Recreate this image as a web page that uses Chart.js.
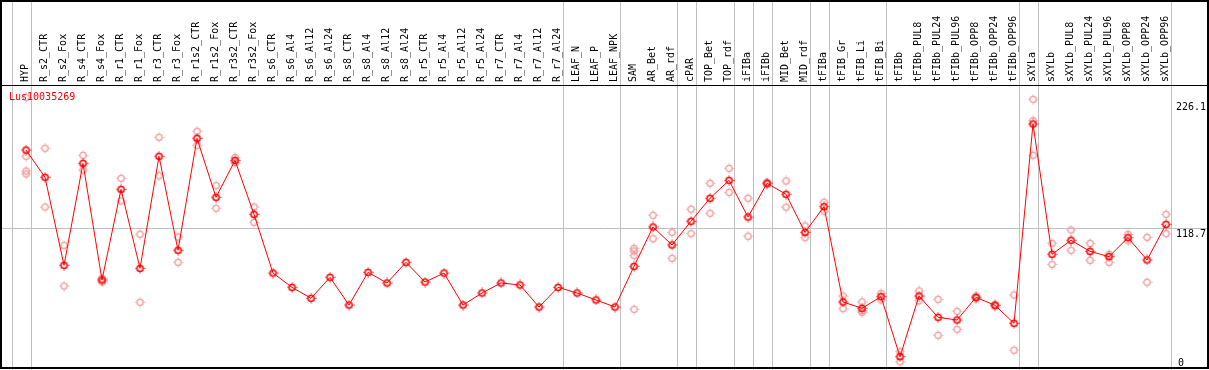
<!DOCTYPE html>
<html>
<head>
<meta charset="utf-8">
<script src="https://cdn.jsdelivr.net/npm/chart.js@4"></script>
<style>
  html, body { margin: 0; padding: 0; background: #fff; }
</style>
</head>
<body>
<canvas id="expressionChart" width="1209" height="370"></canvas>
<script>
const geneName = 'Lus10035269';

const categories = [
    'HYP', 'R_s2_CTR', 'R_s2_Fox', 'R_s4_CTR', 'R_s4_Fox', 'R_r1_CTR', 'R_r1_Fox', 'R_r3_CTR', 'R_r3_Fox',
    'R_r1s2_CTR', 'R_r1s2_Fox', 'R_r3s2_CTR', 'R_r3s2_Fox', 'R_s6_CTR', 'R_s6_Al4', 'R_s6_Al12', 'R_s6_Al24',
    'R_s8_CTR', 'R_s8_Al4', 'R_s8_Al12', 'R_s8_Al24', 'R_r5_CTR', 'R_r5_Al4', 'R_r5_Al12', 'R_r5_Al24',
    'R_r7_CTR', 'R_r7_Al4', 'R_r7_Al12', 'R_r7_Al24', 'LEAF_N', 'LEAF_P', 'LEAF_NPK', 'SAM', 'AR_Bet', 'AR_rdf',
    'cPAR', 'TOP_Bet', 'TOP_rdf', 'iFIBa', 'iFIBb', 'MID_Bet', 'MID_rdf', 'tFIBa', 'tFIB_Gr', 'tFIB_Li', 'tFIB_Bi',
    'tFIBb', 'tFIBb_PUL8', 'tFIBb_PUL24', 'tFIBb_PUL96', 'tFIBb_OPP8', 'tFIBb_OPP24', 'tFIBb_OPP96',
    'sXYLa', 'sXYLb', 'sXYLb_PUL8', 'sXYLb_PUL24', 'sXYLb_PUL96', 'sXYLb_OPP8', 'sXYLb_OPP24', 'sXYLb_OPP96'
];

// mean expression per sample
const means = [
    184.8, 161.7, 87.1, 173.5, 74.6, 151.5, 84.5, 179.5, 99.8,
    194.7, 144.7, 176.0, 130.3, 80.5, 68.4, 59.1, 76.9,
    53.4, 81.1, 72.1, 89.6, 72.9, 80.5, 53.4, 63.6,
    72.1, 70.4, 51.7, 68.4, 63.6, 57.7, 51.7, 86.2, 119.6, 104.3,
    124.4, 143.9, 159.1, 128.0, 156.6, 147.3, 115.0, 136.8, 56.0, 50.6, 60.5,
    9.6, 61.0, 43.0, 40.7, 59.9, 53.2, 37.9,
    206.9, 96.4, 108.3, 98.9, 94.4, 110.5, 91.6, 121.8
];

// individual replicates per sample
const replicates = [
    [229.5, 179.5, 167.0, 164.5], [186.3, 136.5], [104.0, 69.5], [180.3, 167.9], [76.0, 73.0],
    [160.8, 141.6], [113.4, 55.7], [195.6, 163.0], [111.0, 89.6],
    [200.7, 188.8], [154.6, 135.4], [178.5, 174.0], [136.5, 123.5], [], [], [], [],
    [], [], [], [], [], [], [], [],
    [], [], [], [], [], [], [], [101.5, 99.2, 95.2, 49.8], [129.5, 109.6], [115.0, 93.0],
    [134.6, 113.9], [156.6, 131.2], [169.3, 148.9], [143.9, 111.7], [157.5, 155.7], [158.6, 136.3],
    [120.4, 110.5], [140.5, 133.0], [61.0, 50.3], [56.0, 47.2, 48.5], [63.3, 57.7],
    [13.8, 5.3], [65.3, 57.1], [58.2, 27.7], [48.1, 32.8], [61.0, 58.8], [54.0, 52.4], [61.9, 15.0],
    [227.8, 209.7, 180.3], [105.7, 87.9], [117.0, 99.8], [105.7, 91.3], [96.4, 89.6], [113.2, 107.8],
    [110.8, 72.7], [130.3, 113.9]
];

// samples after which a group separator is drawn (-1 = before the first one)
const groupEnds = [-1, 0, 28, 31, 34, 35, 37, 38, 39, 41, 42, 45, 52, 53, 60];

const yTickLabels = [0, 118.7, 226.1];
const yMax = 239.1;

const monoFont = '10px "DejaVu Sans Mono", monospace';

function makeMarker(color, lineWidth) {
    const c = document.createElement('canvas');
    c.width = 11;
    c.height = 11;
    const g = c.getContext('2d');
    g.strokeStyle = color;
    g.fillStyle = color;
    g.lineWidth = lineWidth;
    g.beginPath();
    g.arc(5.5, 5.5, 3.1, 0, Math.PI * 2);
    g.stroke();
    // little ticks around the ring
    g.fillRect(5, 0.5, 1, 1.2);
    g.fillRect(5, 9.3, 1, 1.2);
    g.fillRect(0.5, 5, 1.2, 1);
    g.fillRect(9.3, 5, 1.2, 1);
    return c;
}

const framePlugin = {
    id: 'framePlugin',
    beforeDatasetsDraw(chart) {
        const { ctx, chartArea, scales: { x, y } } = chart;
        ctx.save();
        ctx.strokeStyle = '#c0c0c0';
        ctx.lineWidth = 1;
        ctx.beginPath();
        const gy = Math.round(y.getPixelForValue(yTickLabels[1])) + 0.5;
        ctx.moveTo(chartArea.left, gy);
        ctx.lineTo(chartArea.right, gy);
        groupEnds.forEach(i => {
            const gx = Math.round(x.getPixelForValue(i + 0.25)) + 0.5;
            ctx.moveTo(gx, 0);
            ctx.lineTo(gx, chart.height);
        });
        ctx.stroke();
        ctx.restore();
    },
    afterDraw(chart) {
        const { ctx, chartArea, scales: { y } } = chart;
        ctx.save();
        ctx.strokeStyle = '#000';
        ctx.lineWidth = 2;
        ctx.strokeRect(1, 1, chartArea.right - 1, chartArea.bottom - 1);
        ctx.lineWidth = 1;
        ctx.beginPath();
        ctx.moveTo(1, chartArea.top - 0.5);
        ctx.lineTo(chartArea.right, chartArea.top - 0.5);
        ctx.stroke();

        ctx.font = monoFont;
        ctx.fillStyle = '#000';
        ctx.textAlign = 'left';
        yTickLabels.forEach(v => {
            const py = y.getPixelForValue(v);
            if (py + 12 > chartArea.bottom) {
                ctx.textBaseline = 'bottom';
                ctx.fillText(String(v), 1178, chartArea.bottom);
            } else {
                ctx.textBaseline = 'top';
                ctx.fillText(String(v), 1176, py + 1);
            }
        });

        ctx.fillStyle = '#ff0000';
        ctx.textBaseline = 'middle';
        ctx.fillText(geneName, 9, chartArea.top + 11);
        ctx.restore();
    }
};

new Chart(document.getElementById('expressionChart'), {
    type: 'line',
    data: {
        datasets: [{
            label: geneName,
            data: means.map((v, i) => ({ x: i, y: v })),
            borderColor: '#ff0000',
            borderWidth: 1,
            tension: 0,
            pointStyle: makeMarker('#ff0000', 1.5),
            order: 0
        }, {
            type: 'scatter',
            label: 'replicates',
            data: replicates.flatMap((reps, i) => reps.map(v => ({ x: i, y: v }))),
            pointStyle: makeMarker('#f09a9a', 1.3),
            order: 1
        }]
    },
    options: {
        responsive: false,
        animation: false,
        layout: { autoPadding: false, padding: { left: 1, right: 1, top: 1, bottom: 2 } },
        plugins: {
            legend: { display: false },
            tooltip: { enabled: false }
        },
        scales: {
            x: {
                type: 'linear',
                position: 'top',
                min: -1.316,
                max: 62.21,
                afterBuildTicks: scale => { scale.ticks = categories.map((_, i) => ({ value: i })); },
                afterFit: scale => {
                    scale.height = 85;
                    scale.paddingLeft = 0;
                    scale.paddingRight = 0;
                },
                grid: { display: false, drawTicks: false, tickLength: 0 },
                border: { display: false },
                ticks: {
                    autoSkip: false,
                    minRotation: 90,
                    maxRotation: 90,
                    padding: 4,
                    labelOffset: 11,
                    color: '#000',
                    font: { family: '"DejaVu Sans Mono", monospace', size: 10 },
                    callback: value => categories[value] ?? ''
                }
            },
            y: { min: 0, max: yMax, display: false }
        }
    },
    plugins: [framePlugin]
});
</script>
</body>
</html>
